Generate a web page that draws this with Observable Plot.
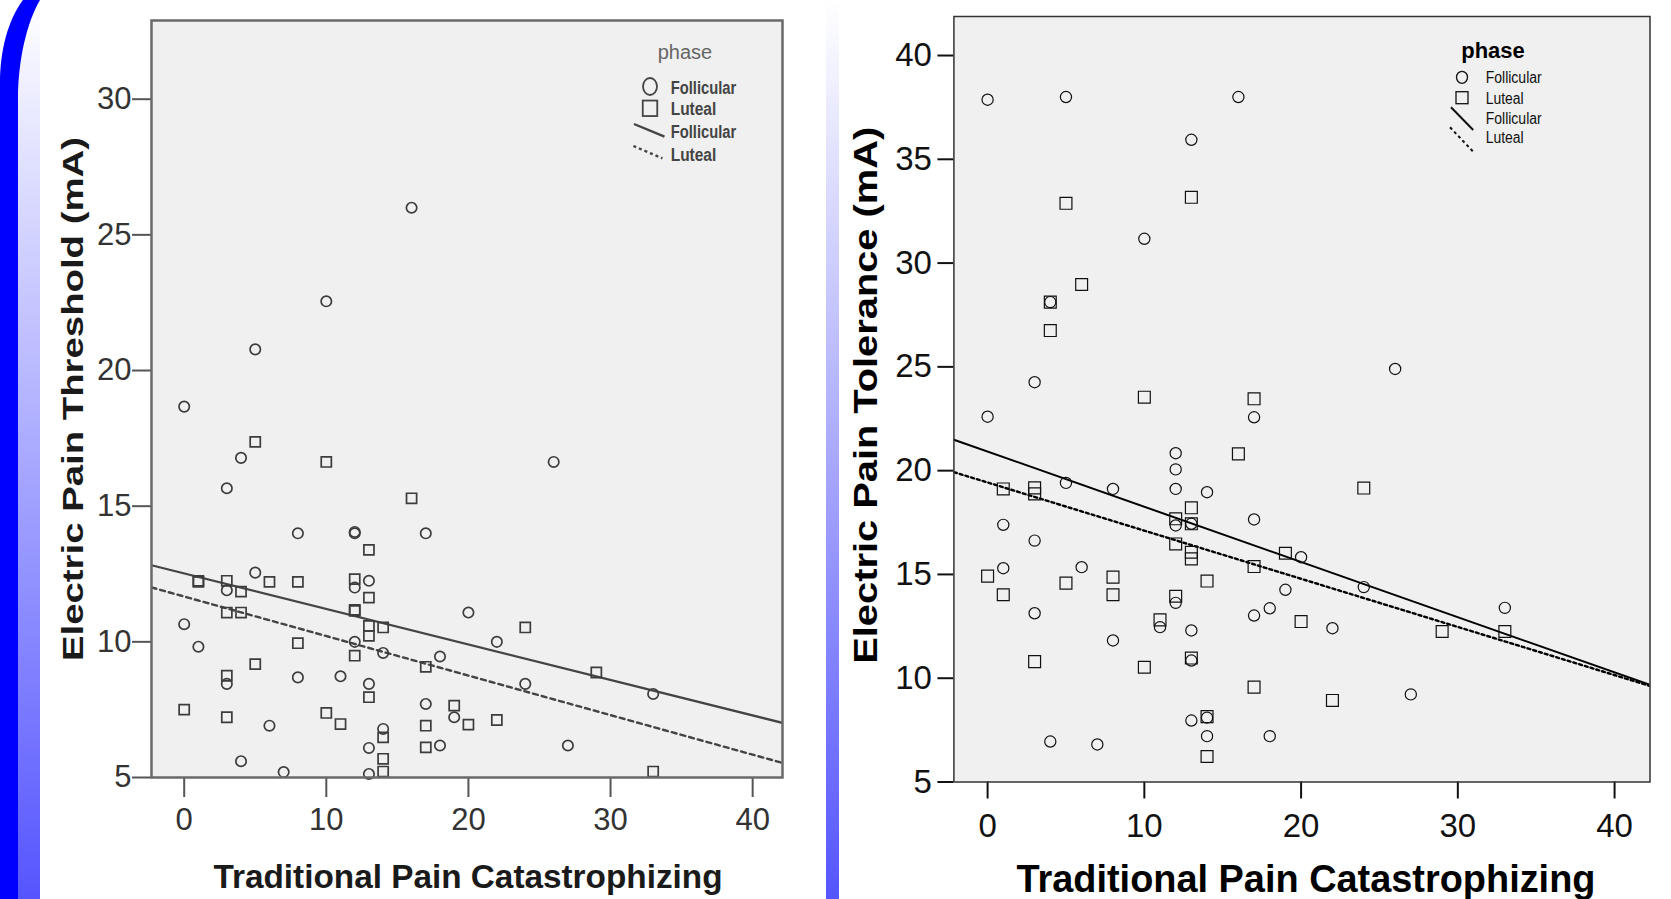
<!DOCTYPE html>
<html>
<head>
<meta charset="utf-8">
<script src="https://cdn.jsdelivr.net/npm/d3@7"></script>
<script src="https://cdn.jsdelivr.net/npm/@observablehq/plot@0.6"></script>
<style>
html, body { margin: 0; padding: 0; background: #fff; }
body { width: 1671px; height: 899px; overflow: hidden; position: relative; font-family: "Liberation Sans", Arial, sans-serif; }
#deco, #overlay { position: absolute; left: 0; top: 0; }
#deco { z-index: 0; }
#overlay { z-index: 3; pointer-events: none; }
#left { position: absolute; left: 0; top: 0; z-index: 1; }
#right { position: absolute; left: 840px; top: 0; z-index: 1; }
</style>
</head>
<body>
<svg id="deco" width="1671" height="899"></svg>
<div id="left"></div>
<div id="right"></div>
<svg id="overlay" width="1671" height="899"></svg>
<script>
// ---------- shared labels ----------
const phases = ["Follicular", "Luteal"];
const xTicks = [0, 10, 20, 30, 40];
const thresholdYTicks = [5, 10, 15, 20, 25, 30];
const toleranceYTicks = [5, 10, 15, 20, 25, 30, 35, 40];
const xTitle = "Traditional Pain Catastrophizing";
const thresholdTitle = "Electric Pain Threshold (mA)";
const toleranceTitle = "Electric Pain Tolerance (mA)";
const legendTitle = "phase";

// ---------- left panel: pain threshold ----------
const thrFollicularX = [16,10,5,0,4,26,3,8,12,12,17,5,3,12,13,20,0,1,12,22,14,18,3,8,11,13,24,33,17,19,6,14,13,18,27,4,7,13];
const thrFollicularY = [26,22.55,20.78,18.67,16.78,16.63,15.66,14.0,14.0,14.05,14.0,12.55,11.9,12.0,12.25,11.08,10.65,9.82,10.0,10.0,9.59,9.46,8.45,8.69,8.73,8.45,8.45,8.08,7.71,7.22,6.91,6.79,6.09,6.18,6.18,5.6,5.2,5.13];
const thrLutealX = [5,10,16,13,1,1,3,6,8,12,4,13,12,12,3,4,13,14,24,13,8,12,5,17,29,3,13,19,0,10,3,22,11,17,20,14,17,14,14,33];
const thrLutealY = [17.37,16.63,15.29,13.39,12.21,12.25,12.25,12.21,12.21,12.31,11.85,11.63,11.14,11.18,11.08,11.08,10.59,10.53,10.53,10.22,9.95,9.49,9.18,9.08,8.87,8.75,7.96,7.65,7.5,7.38,7.22,7.12,6.97,6.91,6.95,6.48,6.11,5.69,5.22,5.22];
const thrFitIntercept = [12.52, 11.67];   // Follicular, Luteal
const thrFitSlope = [-0.1308, -0.1457];

// ---------- right panel: pain tolerance ----------
const tolFollicularX = [0,5,16,13,10,4,26,3,0,17,12,12,5,12,8,14,17,1,12,13,3,20,6,1,19,24,12,18,33,3,17,11,13,22,8,13,27,14,13,14,18,4,7];
const tolFollicularY = [37.87,38.0,38.0,35.94,31.17,28.12,24.9,24.26,22.6,22.57,20.84,20.06,19.41,19.12,19.12,18.96,17.65,17.39,17.36,17.44,16.63,15.83,15.35,15.3,14.26,14.39,13.63,13.37,13.39,13.13,13.02,12.46,12.3,12.41,11.82,10.85,9.22,8.1,7.96,7.21,7.21,6.95,6.81];
const tolLutealX = [13,5,6,4,4,10,17,16,1,3,3,24,13,12,13,12,13,13,19,17,0,8,14,5,1,8,12,11,20,29,33,3,10,13,17,22,14,14];
const tolLutealY = [33.17,32.88,28.97,28.12,26.75,23.54,23.46,20.81,19.12,19.17,18.88,19.16,18.21,17.68,17.44,16.47,16.07,15.75,16.02,15.38,14.92,14.87,14.68,14.58,14.02,14.02,13.95,12.81,12.73,12.25,12.25,10.8,10.53,10.97,9.57,8.93,8.15,6.23];
const tolFitIntercept = [20.92, 19.43];
const tolFitSlope = [-0.266, -0.232];

function zip(xs, ys) { return xs.map((x, i) => ({x, y: ys[i]})); }

function makeChart(c) {
  const circles = zip(c.fx, c.fy);
  const squares = zip(c.lx, c.ly);
  const fits = phases.map((p, i) => c.xDomain.map(x => ({phase: p, x, y: c.intercept[i] + c.slope[i] * x})));
  const svg = Plot.plot({
    width: c.width, height: c.height,
    marginLeft: c.ml, marginRight: c.mr, marginTop: c.mt, marginBottom: c.mb,
    x: {domain: c.xDomain},
    y: {domain: c.yDomain},
    style: {background: "transparent", overflow: "visible", fontFamily: '"Liberation Sans", Arial, sans-serif', color: c.axisColor},
    marks: [
      Plot.frame({fill: "#f0f0f0"}),
      Plot.axisX({ticks: xTicks, tickSize: c.xTickSize, tickPadding: c.xTickPad, fontSize: c.tickFont, strokeWidth: c.tickWidth, label: null, fill: c.tickTextColor}),
      Plot.axisY({ticks: c.yTicks, tickSize: c.yTickSize, tickPadding: c.yTickPad, fontSize: c.tickFont, strokeWidth: c.tickWidth, label: null, fill: c.tickTextColor}),
      Plot.line(fits[1], {x: "x", y: "y", stroke: c.lineColor, strokeWidth: c.dashWidth, strokeDasharray: c.dash, clip: true}),
      Plot.line(fits[0], {x: "x", y: "y", stroke: c.lineColor, strokeWidth: c.solidWidth, clip: true}),
      Plot.dot(circles, {x: "x", y: "y", symbol: "circle", r: c.rc, fill: "none", stroke: c.markColor, strokeWidth: c.markWidth}),
      Plot.dot(squares, {x: "x", y: "y", symbol: "square", r: c.rs, fill: "none", stroke: c.markColor, strokeWidth: c.markWidth}),
      Plot.frame({stroke: c.frameColor, strokeWidth: c.frameWidth}),
      Plot.text([c.yTitle], {text: d => d, frameAnchor: "left", dx: c.yTitleDx, dy: c.yTitleDy, rotate: -90, textAnchor: "middle", lineAnchor: "middle", fontSize: c.yTitleFont, fontWeight: "bold", fill: c.titleColor}),
      Plot.text([xTitle], {text: d => d, frameAnchor: "bottom", dx: c.xTitleDx, dy: c.xTitleDy, textAnchor: "middle", lineAnchor: "bottom", fontSize: c.xTitleFont, fontWeight: "bold", fill: c.titleColor})
    ]
  });
  d3.select(svg).selectAll("text").each(function() {
    const t = this.textContent;
    if (t === c.yTitle) d3.select(this).attr("textLength", c.yTitleLen).attr("lengthAdjust", "spacingAndGlyphs");
    if (t === xTitle) d3.select(this).attr("textLength", c.xTitleLen).attr("lengthAdjust", "spacingAndGlyphs");
  });
  return svg;
}

document.getElementById("left").appendChild(makeChart({
  width: 826, height: 899, ml: 151, mr: 44, mt: 20, mb: 122,
  xDomain: [-2.3, 42.1], yDomain: [5, 32.9], yTicks: thresholdYTicks,
  fx: thrFollicularX, fy: thrFollicularY, lx: thrLutealX, ly: thrLutealY,
  intercept: thrFitIntercept, slope: thrFitSlope,
  axisColor: "#555", tickTextColor: "#333", tickFont: 31, tickWidth: 2,
  xTickSize: 20, xTickPad: 10, yTickSize: 19, yTickPad: 1,
  lineColor: "#444", solidWidth: 2.2, dashWidth: 2.4, dash: "5,4",
  rc: 5.2, rs: 5.7, markColor: "#3c3c3c", markWidth: 1.7,
  frameColor: "#6a6a6a", frameWidth: 2.5,
  yTitle: thresholdTitle, yTitleDx: -78, yTitleDy: 0, yTitleFont: 30, yTitleLen: 524,
  xTitleDx: 1, xTitleDy: 110, xTitleFont: 33, xTitleLen: 509, titleColor: "#1a1a1a"
}));

document.getElementById("right").appendChild(makeChart({
  width: 831, height: 899, ml: 113.4, mr: 21.5, mt: 16, mb: 117.5,
  xDomain: [-2.15, 42.26], yDomain: [5, 41.88], yTicks: toleranceYTicks,
  fx: tolFollicularX, fy: tolFollicularY, lx: tolLutealX, ly: tolLutealY,
  intercept: tolFitIntercept, slope: tolFitSlope,
  axisColor: "#111", tickTextColor: "#111", tickFont: 33, tickWidth: 2,
  xTickSize: 17, xTickPad: 15, yTickSize: 16, yTickPad: 6,
  lineColor: "#000", solidWidth: 2, dashWidth: 2.4, dash: "3,3",
  rc: 5.6, rs: 6.7, markColor: "#111", markWidth: 1.2,
  frameColor: "#333", frameWidth: 1.5,
  yTitle: toleranceTitle, yTitleDx: -87.4, yTitleDy: -4, yTitleFont: 33, yTitleLen: 537,
  xTitleDx: 4, xTitleDy: 109.5, xTitleFont: 39, xTitleLen: 579, titleColor: "#000"
}));

// ---------- slide decoration ----------
const deco = d3.select("#deco");
const defs = deco.append("defs");
const grad = defs.append("linearGradient").attr("id", "fade").attr("x1", 0).attr("y1", 0).attr("x2", 0).attr("y2", 1);
grad.append("stop").attr("offset", "0%").attr("stop-color", "#ffffff");
grad.append("stop").attr("offset", "100%").attr("stop-color", "#5555ff");
deco.append("path").attr("d", "M18,899 L18,100 C18,60 27,22 40,0 L40,899 Z").attr("fill", "url(#fade)");
deco.append("path").attr("d", "M0,899 L0,84 C0,50 8,20 23,0 L40,0 C27,22 18,60 18,100 L18,899 Z").attr("fill", "#0000ff");
deco.append("rect").attr("x", 826).attr("y", 0).attr("width", 13).attr("height", 899).attr("fill", "url(#fade)");

// ---------- legends ----------
const ov = d3.select("#overlay");
function legend(o) {
  const g = ov.append("g").attr("font-family", '"Liberation Sans", Arial, sans-serif');
  g.append("text").attr("x", o.titleX).attr("y", o.titleY).attr("text-anchor", "middle")
    .attr("font-size", o.titleFont).attr("font-weight", o.titleWeight).attr("fill", o.titleColor).text(legendTitle);
  g.append("ellipse").attr("cx", o.symX).attr("cy", o.rows[0]).attr("rx", o.crx).attr("ry", o.cry)
    .attr("fill", "none").attr("stroke", o.color).attr("stroke-width", o.sw);
  g.append("rect").attr("x", o.symX - o.sqw / 2).attr("y", o.rows[1] - o.sqh / 2).attr("width", o.sqw).attr("height", o.sqh)
    .attr("fill", "none").attr("stroke", o.color).attr("stroke-width", o.sw);
  g.append("line").attr("x1", o.line1[0]).attr("y1", o.line1[1]).attr("x2", o.line1[2]).attr("y2", o.line1[3])
    .attr("stroke", o.color).attr("stroke-width", o.lw);
  g.append("line").attr("x1", o.line2[0]).attr("y1", o.line2[1]).attr("x2", o.line2[2]).attr("y2", o.line2[3])
    .attr("stroke", o.color).attr("stroke-width", o.lw).attr("stroke-dasharray", o.dash);
  const labels = [phases[0], phases[1], phases[0], phases[1]];
  labels.forEach((lab, i) => {
    g.append("text").attr("x", o.textX).attr("y", o.baselines[i]).attr("font-size", o.font)
      .attr("font-weight", o.weight).attr("fill", o.textColor)
      .attr("textLength", lab === phases[0] ? o.lenF : o.lenL).attr("lengthAdjust", "spacingAndGlyphs").text(lab);
  });
}
legend({
  titleX: 685, titleY: 59, titleFont: 20, titleWeight: "normal", titleColor: "#666",
  symX: 650, rows: [86.5, 108.3], crx: 7, cry: 8.5, sqw: 14.5, sqh: 15.5,
  color: "#444", sw: 1.8, lw: 2.4, dash: "3,3",
  line1: [634, 124, 664.5, 136.7], line2: [633.4, 146, 662.4, 158.3],
  textX: 670.7, baselines: [94, 115, 138, 161], font: 18, weight: "bold", textColor: "#444", lenF: 65.5, lenL: 45.6
});
legend({
  titleX: 1493, titleY: 58.3, titleFont: 22, titleWeight: "bold", titleColor: "#000",
  symX: 1462, rows: [77.3, 97.7], crx: 5.5, cry: 6, sqw: 12, sqh: 12,
  color: "#111", sw: 1.3, lw: 2, dash: "3,3",
  line1: [1451, 107.3, 1473.2, 130], line2: [1450, 127.3, 1473.2, 151.7],
  textX: 1485.7, baselines: [82.7, 104, 124.3, 143.3], font: 16, weight: "normal", textColor: "#111", lenF: 56, lenL: 38
});
</script>
</body>
</html>
